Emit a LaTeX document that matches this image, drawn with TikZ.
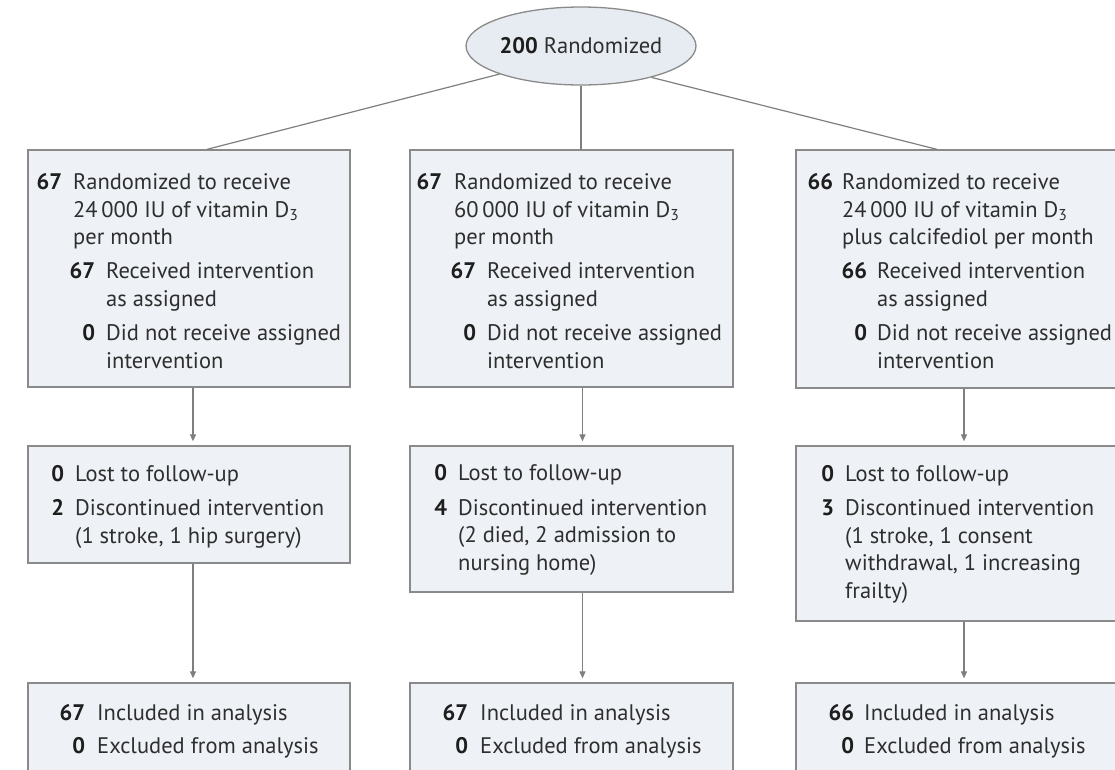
\documentclass[tikz,border=0pt]{standalone}
\usepackage{fontspec}
\setmainfont{PT Sans}
\usetikzlibrary{shapes.geometric,arrows.meta}
\definecolor{boxfill}{HTML}{EEF2F6}
\definecolor{ellfill}{HTML}{E7ECF2}
\definecolor{boxline}{HTML}{8A8A8A}
\definecolor{connc}{HTML}{7F7F7F}
\definecolor{txt}{HTML}{2E2E2E}
\definecolor{numc}{HTML}{1E1E1E}
\newcommand{\nb}[2]{\makebox[#1pt][r]{\textcolor{numc}{\textbf{#2}}}}
\begin{document}
\begin{tikzpicture}[x=1pt,y=-1pt,
  box/.style={draw=boxline, fill=boxfill, line width=1.3pt, rectangle, inner sep=0pt},
  lbl/.style={anchor=base west, align=left, inner sep=0pt, text=txt, font=\fontsize{22.5}{27.4}\selectfont},
  connline/.style={draw=connc, line width=1.2pt},
  arr/.style={connline, -{Triangle[length=7pt,width=6pt]}, shorten >=4pt}]
\useasboundingbox (0,0) rectangle (1115,769);
\clip (0,0) rectangle (1115,769);

% boxes
\node[box, minimum width=322pt, minimum height=237pt] (b1) at (189,268.5) {};
\node[box, minimum width=323pt, minimum height=237pt] (m1) at (571.5,268.5) {};
\node[box, minimum width=323pt, minimum height=238pt] (r1) at (957.5,269) {};
\node[box, minimum width=322pt, minimum height=117pt] (b2) at (189,504.5) {};
\node[box, minimum width=323pt, minimum height=146pt] (m2) at (571.5,519) {};
\node[box, minimum width=323pt, minimum height=175pt] (r2) at (957.5,533.5) {};
\node[box, minimum width=322pt, minimum height=117pt] (b3) at (189,741.5) {};
\node[box, minimum width=323pt, minimum height=117pt] (m3) at (571.5,741.5) {};
\node[box, minimum width=323pt, minimum height=117pt] (r3) at (957.5,741.5) {};

% ellipse
\node[ellipse, draw=boxline, fill=ellfill, line width=1.3pt, minimum width=228pt, minimum height=78pt, inner sep=0pt,
      text=txt, font=\fontsize{22.5}{24}\selectfont] (ell) at (581,46) {\textcolor{numc}{\textbf{200}} Randomized};

% connectors from ellipse
\draw[connline] (ell.199) -- ([xshift=18pt]b1.north);
\draw[connline] (ell.south) -- (ell.south |- m1.north);
\draw[connline] (ell.336) -- ([xshift=-20.5pt]r1.north);

% arrows
\draw[arr] ([xshift=4pt]b1.south) -- ([xshift=4pt]b2.north);
\draw[arr] ([xshift=4pt]b2.south) -- ([xshift=4pt]b3.north);
\draw[arr] ([xshift=11pt]m1.south) -- ([xshift=11pt]m2.north);
\draw[arr] ([xshift=11pt]m2.south) -- ([xshift=11pt]m3.north);
\draw[arr] ([xshift=6.5pt]r1.south) -- ([xshift=6.5pt]r2.north);
\draw[arr] ([xshift=6.5pt]r2.south) -- ([xshift=6.5pt]r3.north);

% texts row 1 (node anchor = baseline of last line)
\node[lbl] (t1) at (40,368) {\nb{22}{67}\hspace{11pt}Randomized to receive\\
\hspace*{33pt}24\,000 IU of vitamin D\textsubscript{3}\\
\hspace*{33pt}per month\\[7pt]
\hspace*{33pt}\nb{22}{67}\hspace{11pt}Received intervention\\
\hspace*{66pt}as assigned\\[7pt]
\hspace*{33pt}\nb{22}{0}\hspace{11pt}Did not receive assigned\\
\hspace*{66pt}intervention};
\node[lbl] (t2) at (420,368) {\nb{22}{67}\hspace{12pt}Randomized to receive\\
\hspace*{34pt}60\,000 IU of vitamin D\textsubscript{3}\\
\hspace*{34pt}per month\\[7pt]
\hspace*{34pt}\nb{22}{67}\hspace{11pt}Received intervention\\
\hspace*{67pt}as assigned\\[7pt]
\hspace*{34pt}\nb{22}{0}\hspace{11pt}Did not receive assigned\\
\hspace*{67pt}intervention};
\node[lbl] (t3) at (811,368) {\nb{22}{66}\hspace{9pt}Randomized to receive\\
\hspace*{31pt}24\,000 IU of vitamin D\textsubscript{3}\\
\hspace*{31pt}plus calcifediol per month\\[7pt]
\hspace*{31pt}\nb{25}{66}\hspace{10pt}Received intervention\\
\hspace*{66pt}as assigned\\[7pt]
\hspace*{31pt}\nb{25}{0}\hspace{10pt}Did not receive assigned\\
\hspace*{66pt}intervention};

% texts row 2
\node[lbl] (t4) at (53,543) {\nb{11}{0}\hspace{11pt}Lost to follow-up\\[7pt]
\nb{11}{2}\hspace{11pt}Discontinued intervention\\
\hspace*{22pt}(1 stroke, 1 hip surgery)};
\node[lbl] (t5) at (436,570) {\nb{11}{0}\hspace{11pt}Lost to follow-up\\[7pt]
\nb{11}{4}\hspace{11pt}Discontinued intervention\\
\hspace*{22pt}(2 died, 2 admission to\\
\hspace*{22pt}nursing home)};
\node[lbl] (t6) at (823,598) {\nb{11}{0}\hspace{11pt}Lost to follow-up\\[7pt]
\nb{11}{3}\hspace{11pt}Discontinued intervention\\
\hspace*{22pt}(1 stroke, 1 consent\\
\hspace*{22pt}withdrawal, 1 increasing\\
\hspace*{22pt}frailty)};

% texts row 3
\node[lbl] (t7) at (63,753) {\nb{22}{67}\hspace{12pt}Included in analysis\\[5.6pt]
\nb{22}{0}\hspace{12pt}Excluded from analysis};
\node[lbl] (t8) at (446,753) {\nb{22}{67}\hspace{12pt}Included in analysis\\[5.6pt]
\nb{22}{0}\hspace{12pt}Excluded from analysis};
\node[lbl] (t9) at (832,753) {\nb{22}{66}\hspace{10pt}Included in analysis\\[5.6pt]
\nb{22}{0}\hspace{10pt}Excluded from analysis};
\end{tikzpicture}
\end{document}
